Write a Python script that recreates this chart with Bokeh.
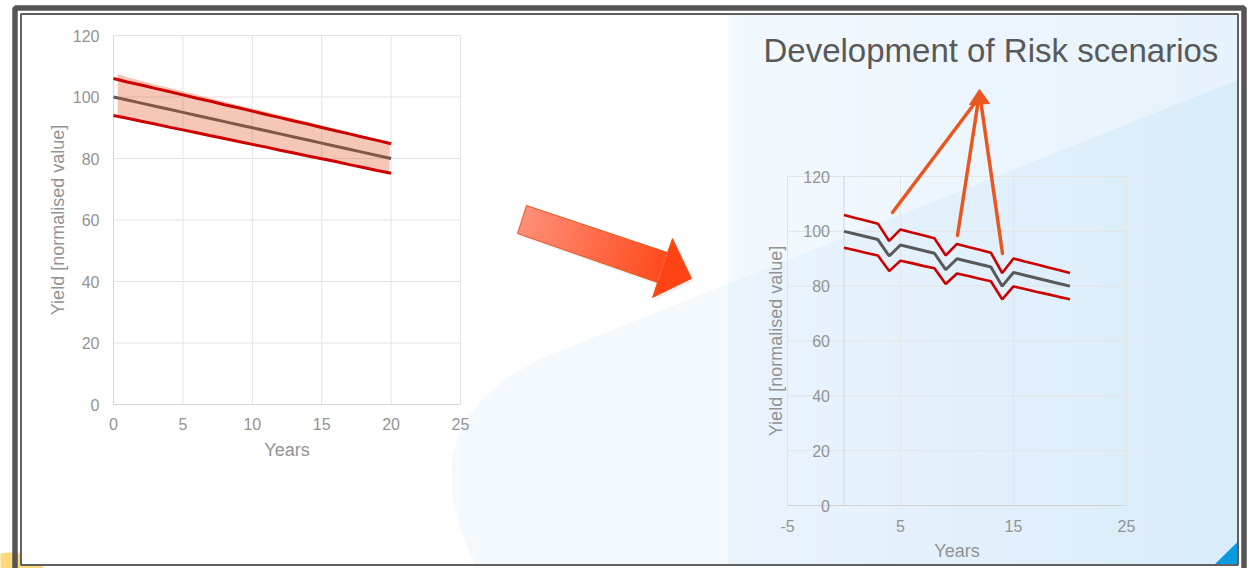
from math import pi

from bokeh.plotting import figure
from bokeh.models import Range1d
from bokeh.core.properties import value
from bokeh.embed import file_html
from bokeh.resources import INLINE

# ---------------- data ----------------
years = [0, 1, 2, 3, 4, 5, 6, 7, 8, 9, 10, 11, 12, 13, 14, 15, 16, 17, 18, 19, 20]

# baseline yield development (left chart)
base_mid = [100, 99, 98, 97, 96, 95, 94, 93, 92, 91, 90, 89, 88, 87, 86, 85, 84, 83, 82, 81, 80]
base_upper = [106, 104.9, 103.9, 102.8, 101.8, 100.7, 99.6, 98.6, 97.5, 96.5, 95.4,
              94.3, 93.3, 92.2, 91.2, 90.1, 89.0, 88.0, 86.9, 85.9, 84.8]
base_lower = [94, 93.1, 92.1, 91.2, 90.2, 89.3, 88.4, 87.4, 86.5, 85.5, 84.6,
              83.7, 82.7, 81.8, 80.8, 79.9, 79.0, 78.0, 77.1, 76.1, 75.2]

# shaded uncertainty band (left chart)
band_years = [0.3, 1, 2, 3, 4, 5, 6, 7, 8, 9, 10, 11, 12, 13, 14, 15, 16, 17, 18, 19, 19.9]
band_top = [107.6, 106.4, 105.3, 104.1, 103.0, 101.9, 100.7, 99.6, 98.5, 97.3, 96.3,
            95.2, 94.1, 93.0, 91.8, 90.7, 89.6, 88.5, 87.4, 86.3, 85.2]
band_bottom = [93.8, 93.1, 92.1, 91.2, 90.2, 89.3, 88.4, 87.4, 86.5, 85.5, 84.6,
               83.7, 82.7, 81.8, 80.8, 79.9, 79.0, 78.0, 77.1, 76.1, 75.3]

# yield development with risk events (right chart)
risk_mid = [100, 99, 98, 97, 91, 95, 94, 93, 92, 86, 90, 89, 88, 87, 80, 85, 84, 83, 82, 81, 80]
risk_upper = [106, 104.9, 103.9, 102.8, 96.5, 100.7, 99.6, 98.6, 97.5, 91.2, 95.4,
              94.3, 93.3, 92.2, 84.8, 90.1, 89.0, 88.0, 86.9, 85.9, 84.8]
risk_lower = [94, 93.1, 92.1, 91.2, 85.5, 89.3, 88.4, 87.4, 86.5, 80.8, 84.6,
              83.7, 82.7, 81.8, 75.2, 79.9, 79.0, 78.0, 77.1, 76.1, 75.2]

left_xticks = [0, 5, 10, 15, 20, 25]
right_xticks = [-5, 5, 15, 25]
yticks = [0, 20, 40, 60, 80, 100, 120]

title_text = "Development of Risk scenarios"
x_title = "Years"
y_title = "Yield [normalised value]"

# ---------------- styling ----------------
W, H = 1249, 568
FONT = value("Liberation Sans")
GREY_TXT = "#939393"
GRID = "#E3E3E3"
RED = "#CC0000"
MID_GREY = "#595959"


def mix(c0, c1, t):
    a = [int(c0[i:i + 2], 16) for i in (1, 3, 5)]
    b = [int(c1[i:i + 2], 16) for i in (1, 3, 5)]
    return "#%02x%02x%02x" % tuple(round(a[k] + (b[k] - a[k]) * t) for k in range(3))


def span(d0, px0, d1, px1, lo_px, hi_px):
    """Range whose values d0/d1 land on canvas pixels px0/px1."""
    k = (d1 - d0) / (px1 - px0)
    return Range1d(start=d0 + (lo_px - px0) * k, end=d0 + (hi_px - px0) * k)


p = figure(width=W, height=H, x_range=Range1d(0, W), y_range=Range1d(H, 0),
           output_backend="svg", toolbar_location=None, min_border=0,
           x_axis_location=None, y_axis_location=None)
p.grid.visible = False
p.outline_line_color = None
p.background_fill_color = "white"
p.border_fill_color = "white"

# chart coordinate systems placed on the slide
p.extra_x_ranges = {
    "lx": span(0, 113, 25, 460, 0, W),
    "rx": span(-5, 787, 25, 1126, 0, W),
}
p.extra_y_ranges = {
    "ly": span(0, 404, 120, 35, H, 0),
    "ry": span(0, 505, 120, 176, H, 0),
}

# ---------------- slide background ----------------
p.scatter(x=[10], y=[595], marker="circle", size=86, fill_color="#FFD97C", line_color=None)
p.quad(left=[20], right=[1237], top=[13], bottom=[565], fill_color="white", line_color=None)

# soft wave shape on the lower left of the blue panel
wave_x = [727, 540, 505, 480, 462, 452, 451, 460, 474, 727]
wave_y = [283.5, 358, 378, 400, 425, 455, 490, 530, 565, 565]
p.patch(wave_x, wave_y, fill_color="#F4F9FE", line_color=None)


def diag(x):
    return 283.5 - (x - 727) * 0.4


n_strips = 34
x_edges = [727 + i * (1237 - 727) / n_strips for i in range(n_strips + 1)]
top_cols = [mix("#F3F9FE", "#E6F2FC", (i + 0.5) / n_strips) for i in range(n_strips)]
low_cols = [mix("#EAF4FD", "#D9ECFA", (i + 0.5) / n_strips) for i in range(n_strips)]
p.quad(left=x_edges[:-1], right=[x + 0.6 for x in x_edges[1:]], top=13, bottom=565,
       fill_color=top_cols, line_color=None)
p.patches(xs=[[x_edges[i], x_edges[i + 1] + 0.6, x_edges[i + 1] + 0.6, x_edges[i]] for i in range(n_strips)],
          ys=[[diag(x_edges[i]), diag(x_edges[i + 1] + 0.6), 565, 565] for i in range(n_strips)],
          fill_color=low_cols, line_color=None)

# ---------------- left chart: baseline ----------------
LR = dict(x_range_name="lx", y_range_name="ly")
p.segment(x0=left_xticks, y0=0, x1=left_xticks, y1=120, line_color=GRID, line_width=1, **LR)
p.segment(x0=0, y0=yticks, x1=25, y1=yticks, line_color=GRID, line_width=1, **LR)
p.segment(x0=[0, 0], y0=[0, 0], x1=[0, 25], y1=[120, 0], line_color="#D6D6D6", line_width=1, **LR)

p.line(years, base_mid, line_color=MID_GREY, line_width=3, **LR)
p.varea(x=band_years, y1=band_bottom, y2=band_top, fill_color="#E2501C", fill_alpha=0.32, **LR)
p.line(years, base_upper, line_color=RED, line_width=3, **LR)
p.line(years, base_lower, line_color=RED, line_width=3, **LR)

p.text(x=0, y=yticks, text=[str(v) for v in yticks], x_offset=-14, text_align="right",
       text_baseline="middle", text_font=FONT, text_font_size="16px", text_color=GREY_TXT, **LR)
p.text(x=left_xticks, y=0, text=[str(v) for v in left_xticks], y_offset=19, text_align="center",
       text_baseline="middle", text_font=FONT, text_font_size="16px", text_color=GREY_TXT, **LR)
p.text(x=[12.5], y=[0], text=[x_title], y_offset=45, text_align="center", text_baseline="middle",
       text_font=FONT, text_font_size="18px", text_color=GREY_TXT, **LR)
p.text(x=[0], y=[60], text=[y_title], x_offset=-56, angle=pi / 2, text_align="center",
       text_baseline="middle", text_font=FONT, text_font_size="18px", text_color=GREY_TXT, **LR)

# ---------------- big transition arrow ----------------
t0, t1 = (526, 205), (667, 252)
b0, b1 = (517, 233), (657, 282)
arrow_x = [526, 667, 672, 691, 652, 657, 517]
arrow_y = [205, 252, 238, 278, 297, 282, 233]
p.patch([x + 2 for x in arrow_x], [y + 3 for y in arrow_y], fill_color="#7A7A7A",
        fill_alpha=0.10, line_color=None)
n_sl = 20
sl_xs, sl_ys, sl_cols = [], [], []
for i in range(n_sl):
    a, b = i / n_sl, min(1.0, (i + 1.3) / n_sl)
    sl_xs.append([t0[0] + (t1[0] - t0[0]) * a, t0[0] + (t1[0] - t0[0]) * b,
                  b0[0] + (b1[0] - b0[0]) * b, b0[0] + (b1[0] - b0[0]) * a])
    sl_ys.append([t0[1] + (t1[1] - t0[1]) * a, t0[1] + (t1[1] - t0[1]) * b,
                  b0[1] + (b1[1] - b0[1]) * b, b0[1] + (b1[1] - b0[1]) * a])
    sl_cols.append(mix("#FF8F79", "#FF4B1E", (i + 0.5) / n_sl))
p.patches(xs=sl_xs, ys=sl_ys, fill_color=sl_cols, line_color=None)
p.patch([667, 672, 691, 652, 657], [252, 238, 278, 297, 282], fill_color="#FF4315", line_color=None)
p.patch(arrow_x, arrow_y, fill_color=None, line_color="#E8581F", line_width=1)

# ---------------- title ----------------
p.text(x=[763], y=[50], text=[title_text], text_align="left", text_baseline="middle",
       text_font=FONT, text_font_size="33px", text_color="#595959")

# ---------------- right chart: risk scenarios ----------------
RR = dict(x_range_name="rx", y_range_name="ry")
p.segment(x0=right_xticks, y0=0, x1=right_xticks, y1=120, line_color="#E2E4E6", line_width=1, **RR)
p.segment(x0=-5, y0=yticks, x1=25, y1=yticks, line_color="#E2E4E6", line_width=1, **RR)
p.segment(x0=[0, -5], y0=[0, 0], x1=[0, 25], y1=[120, 0], line_color="#D0D2D4", line_width=1, **RR)

p.line(years, risk_mid, line_color=MID_GREY, line_width=3, **RR)
p.line(years, risk_upper, line_color=RED, line_width=2.6, **RR)
p.line(years, risk_lower, line_color=RED, line_width=2.6, **RR)

p.text(x=0, y=yticks, text=[str(v) for v in yticks], x_offset=-14, text_align="right",
       text_baseline="middle", text_font=FONT, text_font_size="16px", text_color=GREY_TXT, **RR)
p.text(x=right_xticks, y=0, text=[str(v) for v in right_xticks], y_offset=20, text_align="center",
       text_baseline="middle", text_font=FONT, text_font_size="16px", text_color=GREY_TXT, **RR)
p.text(x=[10], y=[0], text=[x_title], y_offset=45, text_align="center", text_baseline="middle",
       text_font=FONT, text_font_size="18px", text_color=GREY_TXT, **RR)
p.text(x=[0], y=[60], text=[y_title], x_offset=-68, angle=pi / 2, text_align="center",
       text_baseline="middle", text_font=FONT, text_font_size="18px", text_color=GREY_TXT, **RR)

# pointers from the risk dips up to the title
p.segment(x0=[892, 957, 1002], y0=[212, 235, 253], x1=[977, 978, 980], y1=[99, 99, 99],
          line_color="#E9561F", line_width=3.5, line_cap="round")
p.patch([979, 969, 989], [89, 104, 103], fill_color="#E9561F", line_color="#E9561F", line_width=1)

# ---------------- slide frame ----------------
p.patch([1213, 1237.5, 1237.5], [565, 565, 541], fill_color="#0B9ADE", line_color=None)
p.quad(left=[14.5], right=[1243.5], top=[7.5], bottom=[572], fill_color=None,
       line_color="#555555", line_width=5.5)
p.quad(left=[20.5], right=[1237.5], top=[13.5], bottom=[564.5], fill_color=None,
       line_color="#606060", line_width=2)

open("out.html", "w").write(file_html(p, INLINE))
